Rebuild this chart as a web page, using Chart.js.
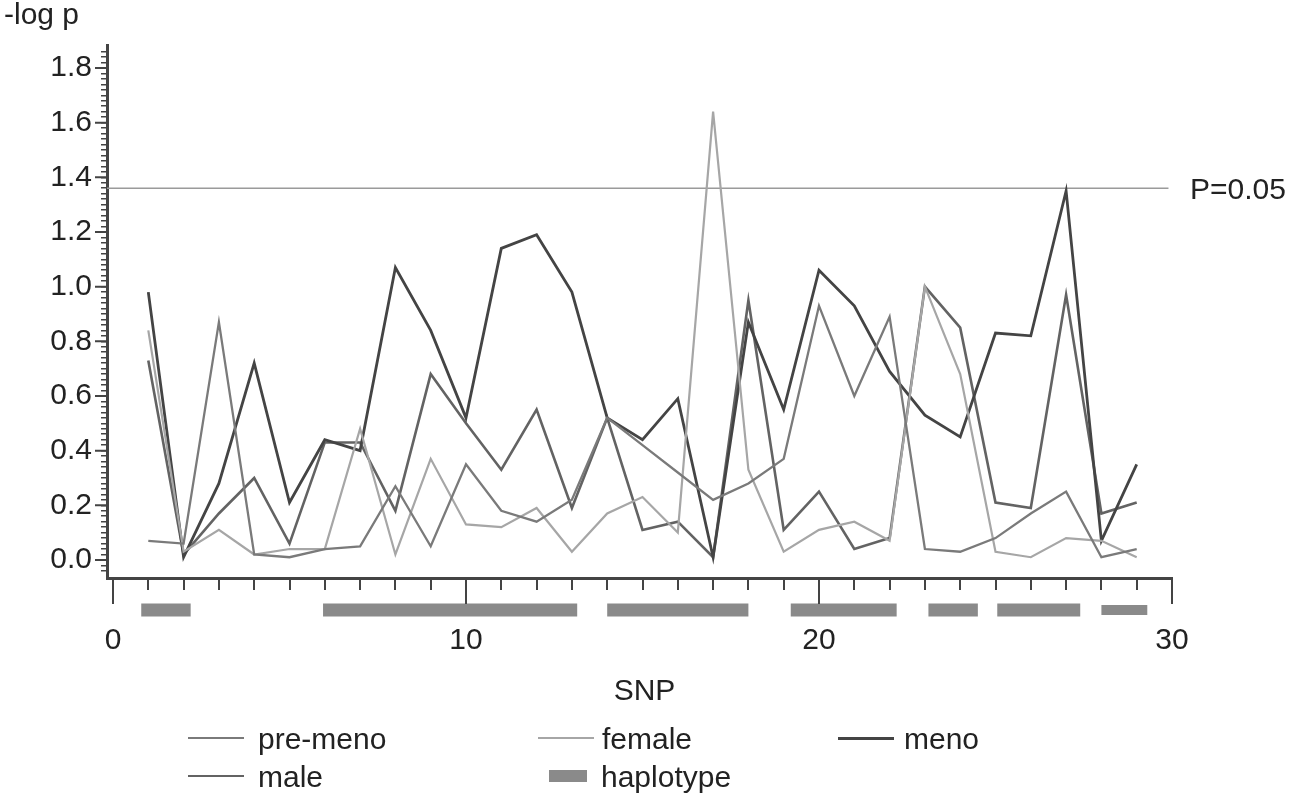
<!DOCTYPE html>
<html lang="en">
<head>
    <meta charset="UTF-8">
    <title>-log p by SNP</title>
    <script src="https://cdn.jsdelivr.net/npm/chart.js"></script>
    <style>
        body { margin: 0; background: #fff; }
        .wrap { position: relative; width: 1297px; height: 795px; }
        .legend { position: absolute; left: 0; top: 0; width: 1297px; height: 795px; pointer-events: none;
                  font-family: 'Liberation Sans', Arial, sans-serif; font-size: 30px; color: #222; }
        .item { position: absolute; height: 36px; line-height: 36px; white-space: nowrap; }
        .item i { position: absolute; top: 17px; left: 0; }
        .item span { position: absolute; top: 0; }
    </style>
</head>
<body>
<div class="wrap">
    <canvas id="snpChart" width="1297" height="795"></canvas>
    <div class="legend" id="legend"></div>
</div>

<script>
    // SNP index 1..29
    const snp = [1, 2, 3, 4, 5, 6, 7, 8, 9, 10, 11, 12, 13, 14, 15, 16, 17, 18, 19, 20, 21, 22, 23, 24, 25, 26, 27, 28, 29];

    // -log p per group
    const preMeno = [0.07, 0.06, 0.87, 0.02, 0.01, 0.04, 0.05, 0.27, 0.05, 0.35, 0.18, 0.14, 0.22, 0.52, 0.42,
                     0.32, 0.22, 0.28, 0.37, 0.93, 0.60, 0.89, 0.04, 0.03, 0.08, 0.17, 0.25, 0.01, 0.04];
    const female  = [0.84, 0.03, 0.11, 0.02, 0.04, 0.04, 0.48, 0.02, 0.37, 0.13, 0.12, 0.19, 0.03, 0.17, 0.23,
                     0.10, 1.64, 0.33, 0.03, 0.11, 0.14, 0.07, 1.00, 0.68, 0.03, 0.01, 0.08, 0.07, 0.01];
    const meno    = [0.98, 0.01, 0.28, 0.72, 0.21, 0.44, 0.40, 1.07, 0.84, 0.52, 1.14, 1.19, 0.98, 0.52, 0.44,
                     0.59, 0.01, 0.87, 0.55, 1.06, 0.93, 0.69, 0.53, 0.45, 0.83, 0.82, 1.35, 0.07, 0.35];
    const male    = [0.73, 0.02, 0.17, 0.30, 0.06, 0.43, 0.43, 0.18, 0.68, 0.50, 0.33, 0.55, 0.19, 0.52, 0.11,
                     0.14, 0.01, 0.95, 0.11, 0.25, 0.04, 0.08, 1.00, 0.85, 0.21, 0.19, 0.97, 0.17, 0.21];

    // haplotype blocks (SNP span)
    const hapStart = [0.8, 5.95, 14.0, 19.2, 23.1, 25.05, 28.0];
    const hapEnd   = [2.2, 13.15, 18.0, 22.2, 24.5, 27.4, 29.3];

    // significance line, P = 0.05
    const pLine = 1.36;
    const pLabel = 'P=0.05';

    // tick labels
    const xLabels = [0, 10, 20, 30];
    const yLabels = [0.0, 0.2, 0.4, 0.6, 0.8, 1.0, 1.2, 1.4, 1.6, 1.8];

    const FONT = "'Liberation Sans', Arial, sans-serif";
    const X_MIN = -0.17, X_MAX = 30, Y_MIN = -0.066, Y_MAX = 1.884;
    const HAP_Y = -0.183;

    const series = [
        { label: 'pre-meno', data: preMeno, color: '#7a7a7a', width: 2.3 },
        { label: 'female',   data: female,  color: '#a6a6a6', width: 2.2 },
        { label: 'meno',     data: meno,    color: '#444444', width: 2.8 },
        { label: 'male',     data: male,    color: '#636363', width: 2.6 }
    ];

    const datasets = series.map(s => ({
        label: s.label,
        data: snp.map((x, i) => ({ x: x, y: s.data[i] })),
        borderColor: s.color,
        borderWidth: s.width,
        pointRadius: 0,
        tension: 0
    }));

    // haplotype bars as one broken thick line (last block drawn a bit thinner, as in the figure)
    const hapPoints = [];
    hapStart.forEach((s, i) => {
        hapPoints.push({ x: s, y: HAP_Y }, { x: hapEnd[i], y: HAP_Y }, { x: hapEnd[i], y: null });
    });
    datasets.push({
        label: 'haplotype',
        data: hapPoints,
        borderColor: '#8a8a8a',
        borderWidth: 13,
        borderCapStyle: 'butt',
        pointRadius: 0,
        spanGaps: false,
        clip: false,
        segment: {
            borderWidth: ctx => (ctx.p0.parsed.x >= hapStart[hapStart.length - 1] ? 10 : 13)
        }
    });

    datasets.push({
        label: 'threshold',
        data: [{ x: X_MIN, y: pLine }, { x: 29.9, y: pLine }],
        borderColor: '#9a9a9a',
        borderWidth: 1.5,
        pointRadius: 0
    });

    // longer ticks at labelled values + free texts
    const extras = {
        id: 'extras',
        afterDraw(chart) {
            const ctx = chart.ctx;
            const xs = chart.scales.x, ys = chart.scales.y;
            const area = chart.chartArea;
            ctx.save();
            ctx.strokeStyle = '#444';
            ctx.lineWidth = 2;
            ctx.beginPath();
            xLabels.forEach(v => {
                const px = xs.getPixelForValue(v);
                ctx.moveTo(px, area.bottom);
                ctx.lineTo(px, area.bottom + 26);
            });
            yLabels.forEach(v => {
                const py = ys.getPixelForValue(v);
                ctx.moveTo(area.left, py);
                ctx.lineTo(area.left - 12, py);
            });
            ctx.stroke();

            ctx.fillStyle = '#222';
            ctx.font = '30px ' + FONT;
            ctx.textBaseline = 'middle';
            ctx.textAlign = 'left';
            ctx.fillText('-log p', 4, 16);
            ctx.fillText(pLabel, area.right + 18, ys.getPixelForValue(pLine) + 3);
            ctx.textAlign = 'center';
            ctx.fillText('SNP', (area.left + area.right) / 2 + 5, 692);
            ctx.restore();
        }
    };

    new Chart(document.getElementById('snpChart'), {
        type: 'line',
        data: { datasets: datasets },
        options: {
            responsive: false,
            animation: false,
            layout: { padding: { top: 45, right: 125, left: 0, bottom: 0 } },
            plugins: { legend: { display: false }, tooltip: { enabled: false } },
            scales: {
                x: {
                    type: 'linear',
                    min: X_MIN,
                    max: X_MAX,
                    afterBuildTicks: s => { s.ticks = Array.from({ length: 31 }, (_, i) => ({ value: i })); },
                    afterFit: s => { s.height = 795 - 578; },
                    grid: { drawOnChartArea: false, tickLength: 12, color: '#444', lineWidth: 2 },
                    border: { color: '#444', width: 3 },
                    ticks: {
                        autoSkip: false,
                        maxRotation: 0,
                        padding: 33,
                        color: '#222',
                        font: { family: FONT, size: 30 },
                        callback: v => (xLabels.includes(v) ? String(v) : '')
                    }
                },
                y: {
                    min: Y_MIN,
                    max: Y_MAX,
                    afterBuildTicks: s => {
                        s.ticks = Array.from({ length: 96 }, (_, i) => ({ value: (i - 2) * 0.02 }));
                    },
                    afterFit: s => { s.width = 107; },
                    grid: { drawOnChartArea: false, tickLength: 6, color: '#444', lineWidth: 1.5 },
                    border: { color: '#444', width: 3 },
                    ticks: {
                        autoSkip: false,
                        padding: 9,
                        color: '#222',
                        font: { family: FONT, size: 30 },
                        callback: v => {
                            const hit = yLabels.find(l => Math.abs(l - v) < 1e-6);
                            return hit === undefined ? '' : hit.toFixed(1);
                        }
                    }
                }
            }
        },
        plugins: [extras]
    });

    // legend laid out like the figure: two rows, three columns
    const legendItems = [
        { label: 'pre-meno',  color: '#7a7a7a', w: 2.3, left: 188, top: 721, text: 70 },
        { label: 'female',    color: '#a6a6a6', w: 2.2, left: 538, top: 721, text: 64 },
        { label: 'meno',      color: '#444444', w: 3, left: 838, top: 721, text: 66 },
        { label: 'male',      color: '#636363', w: 2.6, left: 188, top: 759, text: 70 },
        { label: 'haplotype', color: '#8a8a8a', w: 12, left: 549, top: 759, text: 52, box: 38 }
    ];
    const legend = document.getElementById('legend');
    legendItems.forEach(it => {
        const d = document.createElement('div');
        d.className = 'item';
        d.style.left = it.left + 'px';
        d.style.top = it.top + 'px';
        const len = it.box || 56;
        d.innerHTML = '<i style="width:' + len + 'px;height:' + it.w + 'px;background:' + it.color +
            ';margin-top:' + (-it.w / 2) + 'px"></i><span style="left:' + it.text + 'px">' + it.label + '</span>';
        legend.appendChild(d);
    });
</script>
</body>
</html>
